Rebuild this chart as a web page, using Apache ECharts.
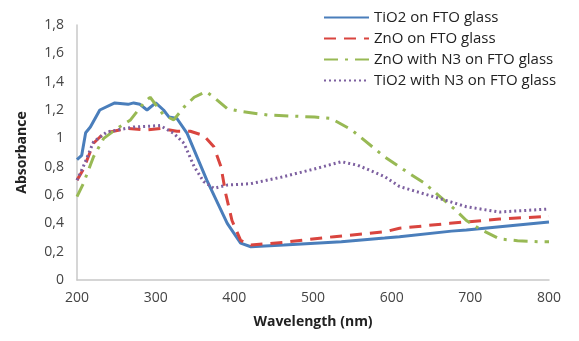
<!DOCTYPE html>
<html><head><meta charset="utf-8">
<script src="https://cdn.jsdelivr.net/npm/echarts@6/dist/echarts.min.js"></script>
<style>html,body{margin:0;padding:0;background:#fff}#c{width:579px;height:341px}</style>
</head><body><div id="c"></div>
<script>
var seriesNames = ["TiO2 on FTO glass","ZnO on FTO glass","ZnO with N3 on FTO glass","TiO2 with N3 on FTO glass"];
var tio2X = [200,206,211,217,229,248,265,272,280,289,300,310,317,327,340,365,391,408,421,463,536,591,610,676,695,800];
var tio2Y = [0.85,0.88,1.04,1.08,1.20,1.25,1.24,1.25,1.24,1.20,1.25,1.20,1.15,1.14,1.035,0.705,0.40,0.26,0.235,0.247,0.27,0.296,0.306,0.345,0.353,0.41];
var znoX = [200,208,221,234,263,289,306,327,344,361,374,383,389,397,408,421,463,527,591,610,674,737,800];
var znoY = [0.705,0.78,0.965,1.035,1.07,1.06,1.07,1.05,1.05,1.02,0.94,0.80,0.61,0.42,0.28,0.247,0.266,0.306,0.34,0.365,0.40,0.43,0.45];
var znoN3X = [200,208,221,234,251,268,285,293,310,323,336,349,364,374,391,408,442,502,523,549,591,623,640,657,678,695,712,737,760,787,800];
var znoN3Y = [0.588,0.68,0.87,1.0,1.07,1.13,1.25,1.29,1.165,1.13,1.22,1.29,1.33,1.29,1.21,1.19,1.165,1.15,1.14,1.06,0.87,0.75,0.69,0.61,0.51,0.42,0.36,0.29,0.277,0.27,0.27];
var tio2N3X = [200,208,221,238,272,306,323,336,349,361,374,391,421,463,506,536,557,591,610,634,652,676,695,737,797];
var tio2N3Y = [0.705,0.80,0.975,1.045,1.08,1.09,1.035,0.965,0.80,0.695,0.647,0.67,0.68,0.73,0.79,0.835,0.81,0.73,0.66,0.62,0.59,0.55,0.517,0.48,0.50];

function zip(xs, ys){ return xs.map(function(x,i){ return [x, ys[i]]; }); }
var font = "'Open Sans', sans-serif";
var chart = echarts.init(document.getElementById('c'), null, {renderer:'canvas'});
function mk(name, xs, ys, color, type, width){
  return {name:name, type:'line', data:zip(xs,ys), symbol:'none', smooth:false,
    lineStyle:{color:color, width:width, type:type, cap:'butt'}, itemStyle:{color:color}};
}
chart.setOption({
  animation:false,
  backgroundColor:'#fff',
  grid:{left:77, right:30, top:25, bottom:61},
  legend:{orient:'vertical', left:318, top:5, itemWidth:45, itemHeight:14, itemGap:6,
    itemStyle:{opacity:0},
    textStyle:{fontFamily:font, fontSize:15, color:'#222'}, data:seriesNames},
  xAxis:{type:'value', min:200, max:800, interval:100,
    name:'Wavelength (nm)', nameLocation:'middle', nameGap:35,
    nameTextStyle:{fontFamily:font, fontSize:14, fontWeight:'bold', color:'#222'},
    axisLine:{show:true, lineStyle:{color:'#c8c8c8', width:1.5}}, axisTick:{show:false},
    splitLine:{show:false},
    axisLabel:{fontFamily:font, fontSize:14, color:'#444', margin:11}},
  yAxis:{type:'value', min:0, max:1.8, interval:0.2,
    name:'Absorbance', nameLocation:'middle', nameGap:48,
    nameTextStyle:{fontFamily:font, fontSize:14, fontWeight:'bold', color:'#222'},
    axisLine:{show:true, lineStyle:{color:'#c8c8c8', width:1.5}}, axisTick:{show:false},
    splitLine:{show:false},
    axisLabel:{fontFamily:font, fontSize:14, color:'#444', margin:13,
      formatter:function(v){ return (Math.round(v*10)/10).toString().replace('.', ','); }}},
  series:[
    mk(seriesNames[0], tio2X, tio2Y, '#4a7ebb', 'solid', 3),
    mk(seriesNames[1], znoX, znoY, '#d9453f', [12,8], 3),
    mk(seriesNames[2], znoN3X, znoN3Y, '#98b954', [14,7,3,7], 3),
    mk(seriesNames[3], tio2N3X, tio2N3Y, '#7d60a0', [2,3], 3)
  ]
});
</script></body></html>
